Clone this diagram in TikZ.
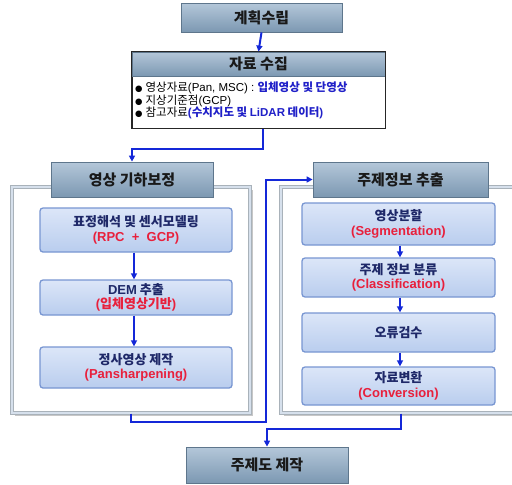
\documentclass[tikz,border=0pt]{standalone}
\usepackage{fontspec}
\setmainfont{Noto Sans CJK KR}
\newfontfamily\latfont{Liberation Sans}
\newfontfamily\symfont{DejaVu Sans}
\newcommand{\la}[1]{{\latfont #1}}
\newcommand{\bul}{{\symfont\fontsize{8.5}{10}\selectfont ●}\hspace{3pt}}
\usetikzlibrary{arrows.meta}
\definecolor{hdrtop}{HTML}{B4C7D9}
\definecolor{hdrbot}{HTML}{7C98B2}
\definecolor{hdrline}{HTML}{5E768C}
\definecolor{boxtop}{HTML}{DCE6F8}
\definecolor{boxbot}{HTML}{B9CDEE}
\definecolor{boxline}{HTML}{7896D2}
\definecolor{navy}{HTML}{1E2868}
\definecolor{redtxt}{HTML}{E8203C}
\definecolor{bluetxt}{HTML}{2020C8}
\definecolor{arrowblue}{HTML}{1428D8}
\definecolor{panelline}{HTML}{A9B2BA}
\definecolor{panelin}{HTML}{D6E0EC}
\tikzset{
  hdr/.style={draw=hdrline, line width=0.8pt, top color=hdrtop, bottom color=hdrbot,
    font=\fontsize{15}{17}\selectfont\bfseries, text=black!90, inner sep=0pt},
  stepbox/.style={draw=boxline, line width=1.3pt, rounded corners=3pt, top color=boxtop,
    bottom color=boxbot, align=center, font=\fontsize{13}{14.5}\selectfont\bfseries,
    text=navy, inner sep=0pt},
  panel/.style={draw=panelline, line width=1pt, fill=white, double=panelin, double distance=1.5pt, inner sep=0pt},
  flow/.style={draw=arrowblue, line width=2pt, -{Triangle[length=6pt,width=6pt]}},
  bullet/.style={anchor=west, font=\fontsize{11.5}{13}\selectfont, inner sep=0pt}
}
\newcommand{\redt}[1]{\textcolor{redtxt}{#1}}
\begin{document}
\begin{tikzpicture}[x=1pt,y=-1pt]
\useasboundingbox (0,0) rectangle (512,485);
% panels (with shadow)
\fill[black!22] (15,190) rectangle (253,416);
\fill[black!22] (284,190) rectangle (518,416);
\node[panel, minimum width=238pt, minimum height=226pt] (lpanel) at (131,300) {};
\node[panel, minimum width=234pt, minimum height=226pt] (rpanel) at (398,300) {};

% top box
\node[hdr, minimum width=161pt, minimum height=29pt] (plan) at (261.5,17.5) {계획수립};

% collection box
\node[draw=black!85, line width=1pt, fill=white, minimum width=253pt, minimum height=76pt, inner sep=0pt] (collect) at (258.5,90) {};
\node[hdr, minimum width=253pt, minimum height=24pt] (collhdr) at (258.5,64) {자료 수집};
\draw[black!85, line width=1pt] (collect.north west) rectangle (collect.south east);
\node[bullet] (b1) at (135,88) {\bul 영상자료\la{(Pan, MSC) : }\textcolor{bluetxt}{\bfseries 입체영상 및 단영상}};
\node[bullet] (b2) at (135,101) {\bul 지상기준점\la{(GCP)}};
\node[bullet] (b3) at (135,113) {\bul 참고자료\textcolor{bluetxt}{\bfseries\la{(}수치지도 및 \la{LiDAR} 데이터\la{)}}};

% left group
\node[hdr, minimum width=162pt, minimum height=35pt] (lhead) at (132,179.5) {영상 기하보정};
\node[stepbox, minimum width=192pt, minimum height=44pt] (l1) at (136,230) {표정해석 및 센서모델링\\\redt{\la{(RPC \ + \ GCP)}}};
\node[stepbox, minimum width=192pt, minimum height=35pt] (l2) at (136,297.5) {\la{DEM} 추출\\\redt{\la{(}입체영상기반\la{)}}};
\node[stepbox, minimum width=192pt, minimum height=41pt] (l3) at (136,367.5) {정사영상 제작\\\redt{\la{(Pansharpening)}}};

% right group
\node[hdr, minimum width=175pt, minimum height=35pt] (rhead) at (400.5,179.5) {주제정보 추출};
\node[stepbox, minimum width=193pt, minimum height=42pt] (r1) at (398.5,224) {영상분할\\\redt{\la{(Segmentation)}}};
\node[stepbox, minimum width=193pt, minimum height=39pt] (r2) at (398.5,277.5) {주제 정보 분류\\\redt{\la{(Classification)}}};
\node[stepbox, minimum width=193pt, minimum height=39pt] (r3) at (398.5,332.5) {오류검수};
\node[stepbox, minimum width=193pt, minimum height=38pt] (r4) at (398.5,386) {자료변환\\\redt{\la{(Conversion)}}};

% final
\node[hdr, minimum width=162pt, minimum height=36pt] (final) at (267,465) {주제도 제작};

% coordinates for connectors
\coordinate (k1) at (263,149);
\coordinate (k2) at (266,422);
\coordinate (k3) at (267,429);

% connectors
\draw[flow] (plan.south) -- (collhdr.north);
\draw[flow] (collect.south -| k1) -- (k1) -| (lhead.north);
\draw[flow] (l1.south -| 134,0) -- (l2.north -| 134,0);
\draw[flow] (l2.south -| 134,0) -- (l3.north -| 134,0);
\draw[flow] (r1.south -| 400,0) -- (r2.north -| 400,0);
\draw[flow] (r2.south -| 400,0) -- (r3.north -| 400,0);
\draw[flow] (r3.south -| 400,0) -- (r4.north -| 400,0);
\draw[flow] (lpanel.south -| 131,0) |- (k2) |- (rhead.west);
\draw[flow] (rpanel.south -| 401,0) |- (k3) -- (final.north);
\end{tikzpicture}
\end{document}
